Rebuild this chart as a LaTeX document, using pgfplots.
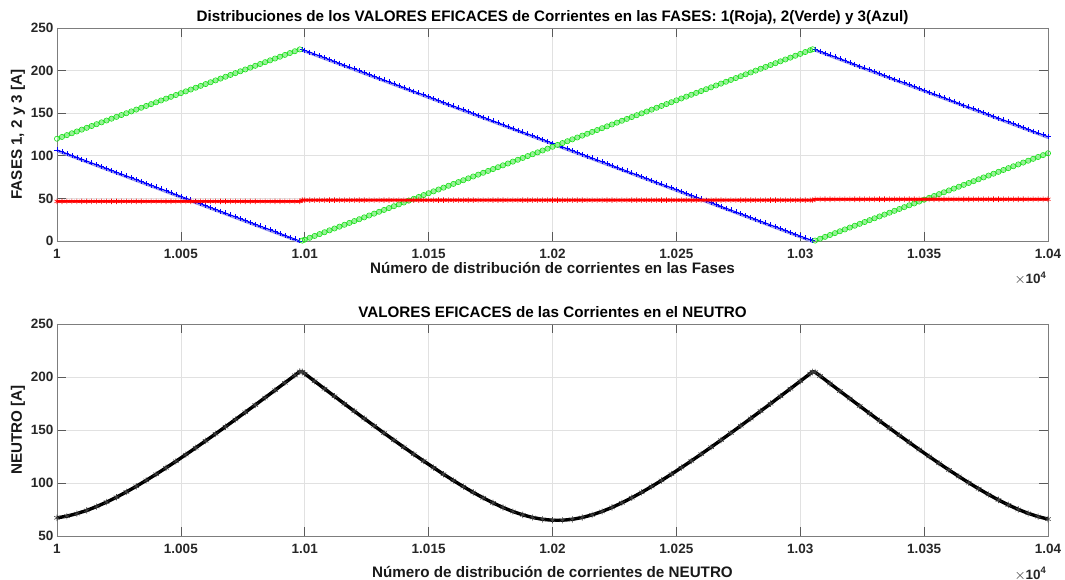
\documentclass[border=0pt]{standalone}
\usepackage{fontspec}
\setmainfont{Liberation Sans}
\usepackage{pgfplots}
\usepackage{pgfplotstable}
\pgfplotsset{compat=1.18}

\definecolor{mred}{rgb}{1,0,0}
\definecolor{mgreen}{rgb}{0.1,0.88,0.1}
\definecolor{mblue}{rgb}{0,0,1}
\definecolor{lblue}{RGB}{150,150,235}
\definecolor{gridc}{RGB}{225,225,225}
\definecolor{boxc}{RGB}{125,125,125}
\definecolor{tickc}{RGB}{90,90,90}

% x  red  green  blue
\pgfplotstableread{
x r g b
10000 46.5 120.00 107.00
10002 46.5 122.14 104.82
10004 46.5 124.28 102.64
10006 46.5 126.42 100.46
10008 46.5 128.56 98.28
10010 46.5 130.70 96.10
10012 46.5 132.84 93.92
10014 46.5 134.98 91.74
10016 46.5 137.12 89.56
10018 46.5 139.26 87.38
10020 46.5 141.40 85.20
10022 46.5 143.54 83.02
10024 46.5 145.68 80.84
10026 46.5 147.82 78.66
10028 46.5 149.96 76.48
10030 46.5 152.10 74.30
10032 46.5 154.24 72.12
10034 46.5 156.38 69.94
10036 46.5 158.52 67.76
10038 46.5 160.66 65.58
10040 46.5 162.80 63.40
10042 46.5 164.94 61.22
10044 46.5 167.08 59.04
10046 46.5 169.22 56.86
10048 46.5 171.36 54.68
10050 46.5 173.50 52.50
10052 46.5 175.64 50.32
10054 46.5 177.78 48.14
10056 46.5 179.92 45.96
10058 46.5 182.06 43.78
10060 46.5 184.20 41.60
10062 46.5 186.34 39.42
10064 46.5 188.48 37.24
10066 46.5 190.62 35.06
10068 46.5 192.76 32.88
10070 46.5 194.90 30.70
10072 46.5 197.04 28.52
10074 46.5 199.18 26.34
10076 46.5 201.32 24.16
10078 46.5 203.46 21.98
10080 46.5 205.60 19.80
10082 46.5 207.74 17.62
10084 46.5 209.88 15.44
10086 46.5 212.02 13.26
10088 46.5 214.16 11.08
10090 46.5 216.30 8.90
10092 46.5 218.44 6.72
10094 46.5 220.58 4.54
10096 46.5 222.72 2.36
10098 46.5 224.86 0.18
10099 48 0.50 225.00
10100 48 1.59 223.91
10102 48 3.77 221.73
10104 48 5.95 219.55
10106 48 8.13 217.37
10108 48 10.31 215.19
10110 48 12.49 213.01
10112 48 14.67 210.83
10114 48 16.85 208.65
10116 48 19.03 206.47
10118 48 21.21 204.29
10120 48 23.39 202.11
10122 48 25.57 199.93
10124 48 27.75 197.75
10126 48 29.93 195.57
10128 48 32.11 193.39
10130 48 34.29 191.21
10132 48 36.47 189.03
10134 48 38.65 186.85
10136 48 40.83 184.67
10138 48 43.01 182.49
10140 48 45.19 180.31
10142 48 47.37 178.13
10144 48 49.55 175.95
10146 48 51.73 173.77
10148 48 53.91 171.59
10150 48 56.09 169.41
10152 48 58.27 167.23
10154 48 60.45 165.05
10156 48 62.63 162.87
10158 48 64.81 160.69
10160 48 66.99 158.51
10162 48 69.17 156.33
10164 48 71.35 154.15
10166 48 73.53 151.97
10168 48 75.71 149.79
10170 48 77.89 147.61
10172 48 80.07 145.43
10174 48 82.25 143.25
10176 48 84.43 141.07
10178 48 86.61 138.89
10180 48 88.79 136.71
10182 48 90.97 134.53
10184 48 93.15 132.35
10186 48 95.33 130.17
10188 48 97.51 127.99
10190 48 99.69 125.81
10192 48 101.87 123.63
10194 48 104.05 121.45
10196 48 106.23 119.27
10198 48 108.41 117.09
10200 48 110.59 114.91
10202 48 112.77 112.73
10204 48 114.95 110.55
10206 48 117.13 108.37
10208 48 119.31 106.19
10210 48 121.49 104.01
10212 48 123.67 101.83
10214 48 125.85 99.65
10216 48 128.03 97.47
10218 48 130.21 95.29
10220 48 132.39 93.11
10222 48 134.57 90.93
10224 48 136.75 88.75
10226 48 138.93 86.57
10228 48 141.11 84.39
10230 48 143.29 82.21
10232 48 145.47 80.03
10234 48 147.65 77.85
10236 48 149.83 75.67
10238 48 152.01 73.49
10240 48 154.19 71.31
10242 48 156.37 69.13
10244 48 158.55 66.95
10246 48 160.73 64.77
10248 48 162.91 62.59
10250 48 165.09 60.41
10252 48 167.27 58.23
10254 48 169.45 56.05
10256 48 171.63 53.87
10258 48 173.81 51.69
10260 48 175.99 49.51
10262 48 178.17 47.33
10264 48 180.35 45.15
10266 48 182.53 42.97
10268 48 184.71 40.79
10270 48 186.89 38.61
10272 48 189.07 36.43
10274 48 191.25 34.25
10276 48 193.43 32.07
10278 48 195.61 29.89
10280 48 197.79 27.71
10282 48 199.97 25.53
10284 48 202.15 23.35
10286 48 204.33 21.17
10288 48 206.51 18.99
10290 48 208.69 16.81
10292 48 210.87 14.63
10294 48 213.05 12.45
10296 48 215.23 10.27
10298 48 217.41 8.09
10300 48 219.59 5.91
10302 48 221.77 3.73
10304 48 223.95 1.55
10305 48 225.04 0.46
10306 49 0.50 225.00
10308 49 2.68 222.82
10310 49 4.86 220.64
10312 49 7.04 218.46
10314 49 9.22 216.28
10316 49 11.40 214.10
10318 49 13.58 211.92
10320 49 15.76 209.74
10322 49 17.94 207.56
10324 49 20.12 205.38
10326 49 22.30 203.20
10328 49 24.48 201.02
10330 49 26.66 198.84
10332 49 28.84 196.66
10334 49 31.02 194.48
10336 49 33.20 192.30
10338 49 35.38 190.12
10340 49 37.56 187.94
10342 49 39.74 185.76
10344 49 41.92 183.58
10346 49 44.10 181.40
10348 49 46.28 179.22
10350 49 48.46 177.04
10352 49 50.64 174.86
10354 49 52.82 172.68
10356 49 55.00 170.50
10358 49 57.18 168.32
10360 49 59.36 166.14
10362 49 61.54 163.96
10364 49 63.72 161.78
10366 49 65.90 159.60
10368 49 68.08 157.42
10370 49 70.26 155.24
10372 49 72.44 153.06
10374 49 74.62 150.88
10376 49 76.80 148.70
10378 49 78.98 146.52
10380 49 81.16 144.34
10382 49 83.34 142.16
10384 49 85.52 139.98
10386 49 87.70 137.80
10388 49 89.88 135.62
10390 49 92.06 133.44
10392 49 94.24 131.26
10394 49 96.42 129.08
10396 49 98.60 126.90
10398 49 100.78 124.72
10400 49 102.96 122.54
}\phases

\pgfplotstableread{
x n
10000 67.13
10004 68.73
10008 71.09
10012 74.14
10016 77.78
10020 81.95
10024 86.57
10028 91.56
10032 96.88
10036 102.47
10040 108.28
10044 114.29
10048 120.47
10052 126.78
10056 133.22
10060 139.76
10064 146.39
10068 153.10
10072 159.88
10076 166.72
10080 173.61
10084 180.55
10088 187.53
10092 194.55
10096 201.60
10098 205.14
10099 204.92
10100 203.13
10104 195.99
10108 188.88
10112 181.80
10116 174.77
10120 167.77
10124 160.83
10128 153.95
10132 147.13
10136 140.39
10140 133.74
10144 127.18
10148 120.74
10152 114.44
10156 108.30
10160 102.35
10164 96.62
10168 91.15
10172 86.00
10176 81.23
10180 76.91
10184 73.11
10188 69.92
10192 67.44
10196 65.73
10200 64.86
10204 64.86
10208 65.74
10212 67.46
10216 69.95
10220 73.14
10224 76.95
10228 81.27
10232 86.05
10236 91.20
10240 96.67
10244 102.40
10248 108.35
10252 114.50
10256 120.80
10260 127.24
10264 133.80
10268 140.45
10272 147.20
10276 154.01
10280 160.90
10284 167.84
10288 174.83
10292 181.87
10296 188.94
10300 196.05
10304 203.20
10305 204.99
10306 204.61
10308 201.02
10312 193.88
10316 186.76
10320 179.68
10324 172.64
10328 165.65
10332 158.70
10336 151.82
10340 145.00
10344 138.26
10348 131.60
10352 125.05
10356 118.61
10360 112.32
10364 106.19
10368 100.25
10372 94.54
10376 89.11
10380 84.01
10384 79.30
10388 75.05
10392 71.36
10396 68.30
10400 65.97
}\neutro

\pgfplotsset{
  mlstyle/.style={
    scale only axis, width=991bp,
    xmin=10000, xmax=10400,
    scaled x ticks=false,
    xtick={10000,10050,...,10400},
    xticklabels={1,1.005,1.01,1.015,1.02,1.025,1.03,1.035,1.04},
    /pgf/number format/assume math mode=true,
    grid=major,
    major grid style={gridc, line width=0.6bp},
    axis line style={boxc, line width=0.7bp},
    tick style={tickc, line width=0.7bp},
    major tick length=9bp,
    tick align=inside,
    tick pos=both,
    clip mode=individual,
    tick label style={font=\fontsize{13.5bp}{16bp}\selectfont\bfseries, black!85},
    xticklabel style={yshift=-5bp},
    label style={font=\fontsize{15.2bp}{18bp}\selectfont\bfseries, black!90},
    title style={font=\fontsize{15.2bp}{18bp}\selectfont\bfseries, black, at={(axis description cs:0.5,1)}, anchor=base, yshift=1bp},
    ylabel style={at={(axis description cs:-0.0394,0.5)}, anchor=center, rotate=0},
  },
  bseg/.style={mblue, line width=0.9bp, mark=+, mark size=2.5bp, mark options={line width=0.6bp}},
  bshadow/.style={lblue, line width=2.4bp, yshift=-1.2bp},
  gband/.style={mgreen!45, line width=3.6bp},
}

\begin{document}
\begin{tikzpicture}
\useasboundingbox (0,0) rectangle (1065bp,580bp);

\begin{axis}[mlstyle,
  at={(57bp,339bp)}, anchor=south west, height=213bp,
  ymin=0, ymax=250, ytick={0,50,...,250},
  title={Distribuciones de los VALORES EFICACES de Corrientes en las FASES: 1(Roja), 2(Verde) y 3(Azul)},
  xlabel={Número de distribución de corrientes en las Fases},
  xlabel style={at={(axis description cs:0.5,0)}, anchor=base, yshift=-33bp},
  ylabel={FASES 1, 2 y 3 [A]},
]
% blue: light shadow then line + marks, one plot per segment
\addplot[bshadow, restrict x to domain=10000:10098] table[x=x, y=b] {\phases};
\addplot[bshadow, restrict x to domain=10099:10305] table[x=x, y=b] {\phases};
\addplot[bshadow, restrict x to domain=10306:10400] table[x=x, y=b] {\phases};
\addplot[bseg, restrict x to domain=10000:10098] table[x=x, y=b] {\phases};
\addplot[bseg, restrict x to domain=10099:10305] table[x=x, y=b] {\phases};
\addplot[bseg, restrict x to domain=10306:10400] table[x=x, y=b] {\phases};
% green: pale band then circles
\addplot[gband, restrict x to domain=10000:10098] table[x=x, y=g] {\phases};
\addplot[gband, restrict x to domain=10099:10305] table[x=x, y=g] {\phases};
\addplot[gband, restrict x to domain=10306:10400] table[x=x, y=g] {\phases};
\addplot[only marks, mark=o, mgreen, mark size=2.6bp, mark options={line width=0.65bp}] table[x=x, y=g] {\phases};
% red asterisks over a red band
\addplot[mred, line width=2.6bp, mark=asterisk, mark size=2.8bp, mark options={line width=0.6bp}] table[x=x, y=r] {\phases};
\node[anchor=base east, font=\fontsize{13.5bp}{16bp}\selectfont\bfseries, black!85] at (rel axis cs:1,0) [xshift=2bp, yshift=-43bp] {$\times$10\textsuperscript{4}};
\end{axis}

\begin{axis}[mlstyle,
  at={(57bp,44bp)}, anchor=south west, height=212bp,
  ymin=50, ymax=250, ytick={50,100,...,250},
  title={VALORES EFICACES de las Corrientes en el NEUTRO},
  xlabel={Número de distribución de corrientes de NEUTRO},
  xlabel style={at={(axis description cs:0.5,0)}, anchor=base, yshift=-41bp},
  ylabel={NEUTRO [A]},
]
\addplot[black, line width=3.4bp, mark=asterisk, mark size=3.2bp, mark options={line width=0.6bp, black!75}] table[x=x, y=n] {\neutro};
\node[anchor=base east, font=\fontsize{13.5bp}{16bp}\selectfont\bfseries, black!85] at (rel axis cs:1,0) [xshift=2bp, yshift=-43bp] {$\times$10\textsuperscript{4}};
\end{axis}
\end{tikzpicture}
\end{document}
